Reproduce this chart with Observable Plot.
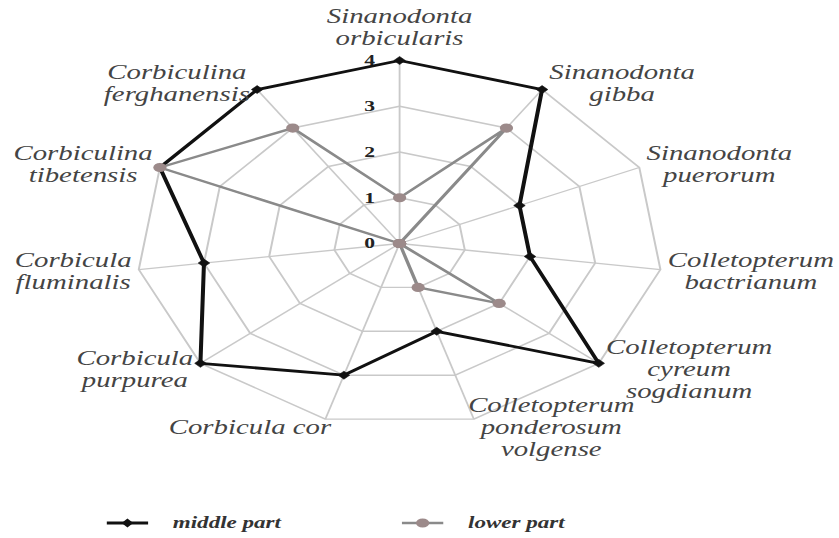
<!DOCTYPE html>
<html><head><meta charset="utf-8">
<script src="https://cdn.jsdelivr.net/npm/d3@7"></script>
<script src="https://cdn.jsdelivr.net/npm/@observablehq/plot@0.6"></script>
<style>
html,body{margin:0;padding:0;background:#fff;}
#wrap{position:relative;width:583px;height:538px;transform:scaleX(1.44);transform-origin:0 0;background:#fff;}
#chart svg{display:block;background:#fff;}
#legend{position:absolute;left:0;top:510px;width:583px;height:26px;font:italic bold 16px "Liberation Serif",serif;color:#333;}
.item{position:absolute;top:0;height:26px;display:flex;align-items:center;white-space:nowrap;}
.item svg{margin-right:17px;}
</style></head><body>
<div id="wrap"><div id="chart"></div><div id="legend"></div></div>
<script>
// ---- data ----
const species = [
  "Sinanodonta orbicularis", "Sinanodonta gibba", "Sinanodonta puerorum",
  "Colletopterum bactrianum", "Colletopterum cyreum sogdianum",
  "Colletopterum ponderosum volgense", "Corbicula cor", "Corbicula purpurea",
  "Corbicula fluminalis", "Corbiculina tibetensis", "Corbiculina ferghanensis"
];
const speciesLabels = [
  "Sinanodonta\norbicularis", "Sinanodonta\ngibba", "Sinanodonta\npuerorum",
  "Colletopterum\nbactrianum", "Colletopterum\ncyreum\nsogdianum",
  "Colletopterum\nponderosum\nvolgense", "Corbicula cor", "Corbicula\npurpurea",
  "Corbicula\nfluminalis", "Corbiculina\ntibetensis", "Corbiculina\nferghanensis"
];
const middlePart = [4, 4, 2, 2, 4, 2, 3, 4, 3, 4, 4];
const lowerPart  = [1, 3, 0, 0, 2, 1, 0, 0, 0, 4, 3];
const levels = [0, 1, 2, 3, 4];
const seriesNames = ["middle part", "lower part"];
const seriesColors = ["#111111", "#8a8a8a"];
const dotColor = "#9c8a8a";

// ---- layout ----
const W = 583, H = 500, CX = 277, CY = 243, R = 183;
const n = species.length;
const vmax = d3.max(levels);
const ppu = R / vmax;
const ang = i => 2 * Math.PI * i / n;
const px = (v, i) => v * Math.sin(ang(i));
const py = (v, i) => v * Math.cos(ang(i));

const rings = levels.filter(l => l > 0).flatMap(l => species.map((s, i) => ({level: l, x: px(l, i), y: py(l, i)})));
const spokes = species.map((s, i) => ({x2: px(vmax, i), y2: py(vmax, i)}));
const mkSeries = (vals, name) => vals.map((v, i) => ({series: name, species: species[i], value: v, x: px(v, i), y: py(v, i)}));
const mid = mkSeries(middlePart, seriesNames[0]);
const low = mkSeries(lowerPart, seriesNames[1]);

// label placement from text metrics
const LFS = 20, LLH = 1.1;
const ctx = document.createElement("canvas").getContext("2d");
ctx.font = `italic ${LFS}px "Liberation Serif"`;
const labelData = speciesLabels.map((lab, i) => {
  const lines = lab.split("\n");
  const w = d3.max(lines, l => ctx.measureText(l).width);
  const h = lines.length * LFS * LLH;
  const s = Math.sin(ang(i)), c = Math.cos(ang(i));
  const vx = CX + s * R, vy = CY - c * R;
  let lx, ly;
  if (Math.abs(s) < 0.05) { lx = vx; ly = vy - 12 - h / 2; }
  else {
    const gap = Math.abs(s) > 0.4 ? 5 : -4;
    lx = vx + Math.sign(s) * (gap + w / 2);
    ly = vy - 8 * c;
  }
  return {label: lab, x: (lx - CX) / ppu, y: (CY - ly) / ppu};
});

const chart = Plot.plot({
  width: W, height: H,
  x: {domain: [-vmax, vmax], range: [CX - R, CX + R], axis: null},
  y: {domain: [-vmax, vmax], range: [CY + R, CY - R], axis: null},
  marks: [
    Plot.line(rings, {x: "x", y: "y", z: "level", curve: "linear-closed", stroke: "#c9c9c9", strokeWidth: 1.4}),
    Plot.link(spokes, {x1: d => 0, y1: d => 0, x2: "x2", y2: "y2", stroke: "#c9c9c9", strokeWidth: 1.3}),
    Plot.text(levels, {x: d => 0, y: d => d, text: d => String(d), textAnchor: "end", dx: -17,
      fontWeight: "bold", fontSize: 15, fontFamily: "Liberation Serif", fill: "#222"}),
    Plot.line(mid, {x: "x", y: "y", curve: "linear-closed", stroke: seriesColors[0], strokeWidth: 2.8}),
    Plot.dot(mid, {x: "x", y: "y", symbol: "diamond2", r: 3.6, fill: seriesColors[0], stroke: seriesColors[0], strokeWidth: 0.5}),
    Plot.line(low, {x: "x", y: "y", curve: "linear-closed", stroke: seriesColors[1], strokeWidth: 2.4}),
    Plot.dot(low, {x: "x", y: "y", r: 4.6, fill: dotColor, stroke: "none"}),
    Plot.text(labelData, {x: "x", y: "y", text: "label", textAnchor: "middle", lineAnchor: "middle",
      lineHeight: LLH, fontSize: LFS, fontStyle: "italic", fontFamily: "Liberation Serif", fill: "#444"})
  ]
});
document.getElementById("chart").appendChild(chart);

// legend
const legend = d3.select("#legend");
const lefts = [74, 279];
seriesNames.forEach((name, k) => {
  const item = legend.append("div").attr("class", "item").style("left", lefts[k] + "px");
  const sv = item.append("svg").attr("width", 29).attr("height", 14);
  sv.append("line").attr("x1", 0).attr("x2", 29).attr("y1", 7).attr("y2", 7)
    .attr("stroke", seriesColors[k]).attr("stroke-width", k === 0 ? 2.8 : 2.4);
  if (k === 0) sv.append("path").attr("d", "M14.5,2.5L18.5,7L14.5,11.5L10.5,7Z").attr("fill", seriesColors[0]);
  else sv.append("circle").attr("cx", 14.5).attr("cy", 7).attr("r", 4.6).attr("fill", dotColor);
  item.append("span").text(name);
});
</script>
</body></html>
